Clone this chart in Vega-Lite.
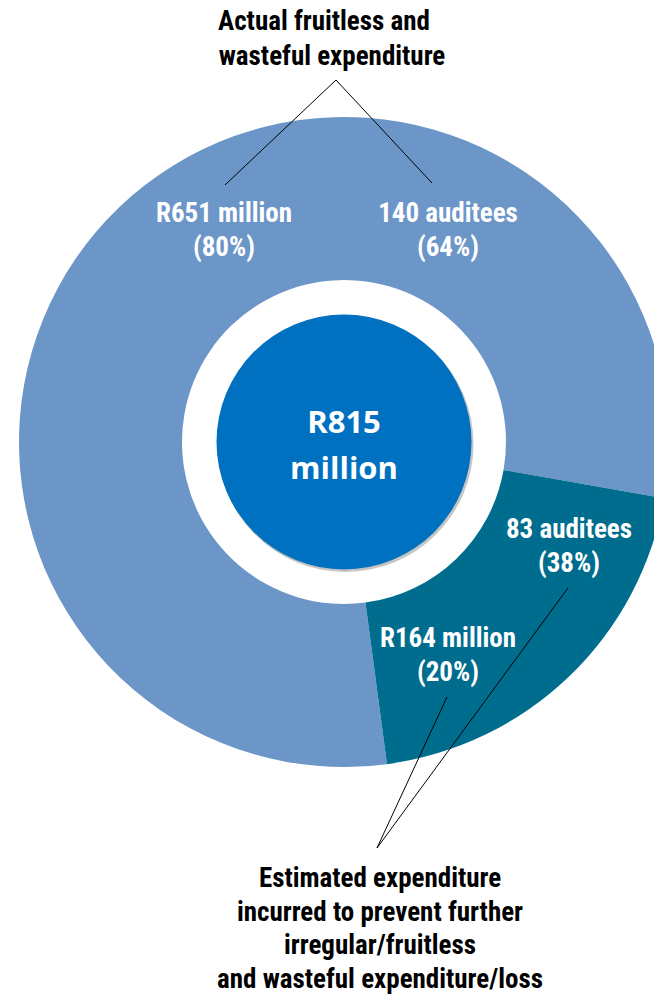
{
  "$schema": "https://vega.github.io/schema/vega-lite/v6.json",
  "width": 654,
  "height": 995,
  "autosize": {"type": "none"},
  "padding": 0,
  "background": "white",
  "config": {"view": {"stroke": null}},
  "datasets": {
    "slices": [
      {"category": "Actual fruitless and wasteful expenditure", "amount": 651},
      {"category": "Estimated expenditure incurred to prevent further loss", "amount": 164}
    ],
    "centre": [{"label": "R815\nmillion", "cx": 344, "cy": 442}],
    "shadow": [{"cx": 345.5, "cy": 444}],
    "sliceLabels": [
      {"label": "R651 million\n(80%)", "x": 224, "y": 221.5},
      {"label": "140 auditees\n(64%)", "x": 448, "y": 221.5},
      {"label": "83 auditees\n(38%)", "x": 569, "y": 538},
      {"label": "R164 million\n(20%)", "x": 448, "y": 647}
    ],
    "notes": [
      {"label": "Actual fruitless and", "x": 324, "y": 29.5},
      {"label": "wasteful expenditure", "x": 332, "y": 64.5},
      {"label": "Estimated expenditure\nincurred to prevent further\nirregular/fruitless\nand wasteful expenditure/loss", "x": 380, "y": 887}
    ],
    "leaders": [
      {"x": 336, "y": 80, "x2": 225, "y2": 185},
      {"x": 336, "y": 80, "x2": 432, "y2": 183},
      {"x": 377, "y": 848, "x2": 447, "y2": 697},
      {"x": 377, "y": 848, "x2": 568, "y2": 588}
    ]
  },
  "layer": [
    {
      "data": {"name": "slices"},
      "mark": {"type": "arc", "outerRadius": 325, "innerRadius": 162},
      "encoding": {
        "x": {"datum": 344, "type": "quantitative", "scale": {"domain": [0, 654], "nice": false, "zero": false}, "axis": null},
        "y": {"datum": 442, "type": "quantitative", "scale": {"domain": [0, 995], "nice": false, "zero": false, "reverse": true}, "axis": null},
        "theta": {"field": "amount", "type": "quantitative", "stack": true, "scale": {"range": [3.0089, 9.2921]}},
        "order": {"field": "amount", "sort": "descending"},
        "color": {
          "field": "category", "type": "nominal", "legend": null,
          "scale": {
            "domain": ["Actual fruitless and wasteful expenditure", "Estimated expenditure incurred to prevent further loss"],
            "range": ["#6C96C8", "#006D8F"]
          }
        }
      }
    },
    {
      "data": {"name": "shadow"},
      "mark": {"type": "arc", "outerRadius": 128, "theta": 0, "theta2": 6.2832, "fill": "#5A5A5A", "opacity": 0.35},
      "encoding": {
        "x": {"field": "cx", "type": "quantitative"},
        "y": {"field": "cy", "type": "quantitative"}
      }
    },
    {
      "data": {"name": "centre"},
      "mark": {"type": "arc", "outerRadius": 127.5, "theta": 0, "theta2": 6.2832, "fill": "#0070C0"},
      "encoding": {
        "x": {"field": "cx", "type": "quantitative"},
        "y": {"field": "cy", "type": "quantitative"}
      }
    },
    {
      "data": {"name": "centre"},
      "mark": {"type": "text", "font": "Open Sans", "fontWeight": "bold", "fontSize": 31, "color": "white", "align": "center", "baseline": "alphabetic", "lineBreak": "\n", "lineHeight": 46, "dy": -9},
      "encoding": {
        "x": {"field": "cx", "type": "quantitative"},
        "y": {"field": "cy", "type": "quantitative"},
        "text": {"field": "label"}
      }
    },
    {
      "data": {"name": "leaders"},
      "mark": {"type": "rule", "color": "black", "strokeWidth": 1},
      "encoding": {
        "x": {"field": "x", "type": "quantitative"},
        "y": {"field": "y", "type": "quantitative"},
        "x2": {"field": "x2"},
        "y2": {"field": "y2"}
      }
    },
    {
      "data": {"name": "sliceLabels"},
      "mark": {"type": "text", "font": "Roboto Condensed, Liberation Sans", "fontWeight": "bold", "fontSize": 27, "color": "white", "align": "center", "baseline": "alphabetic", "lineBreak": "\n", "lineHeight": 34},
      "encoding": {
        "x": {"field": "x", "type": "quantitative"},
        "y": {"field": "y", "type": "quantitative"},
        "text": {"field": "label"}
      }
    },
    {
      "data": {"name": "notes"},
      "mark": {"type": "text", "font": "Roboto Condensed, Liberation Sans", "fontWeight": "bold", "fontSize": 27, "color": "black", "align": "center", "baseline": "alphabetic", "lineBreak": "\n", "lineHeight": 33.5},
      "encoding": {
        "x": {"field": "x", "type": "quantitative"},
        "y": {"field": "y", "type": "quantitative"},
        "text": {"field": "label"}
      }
    }
  ]
}
